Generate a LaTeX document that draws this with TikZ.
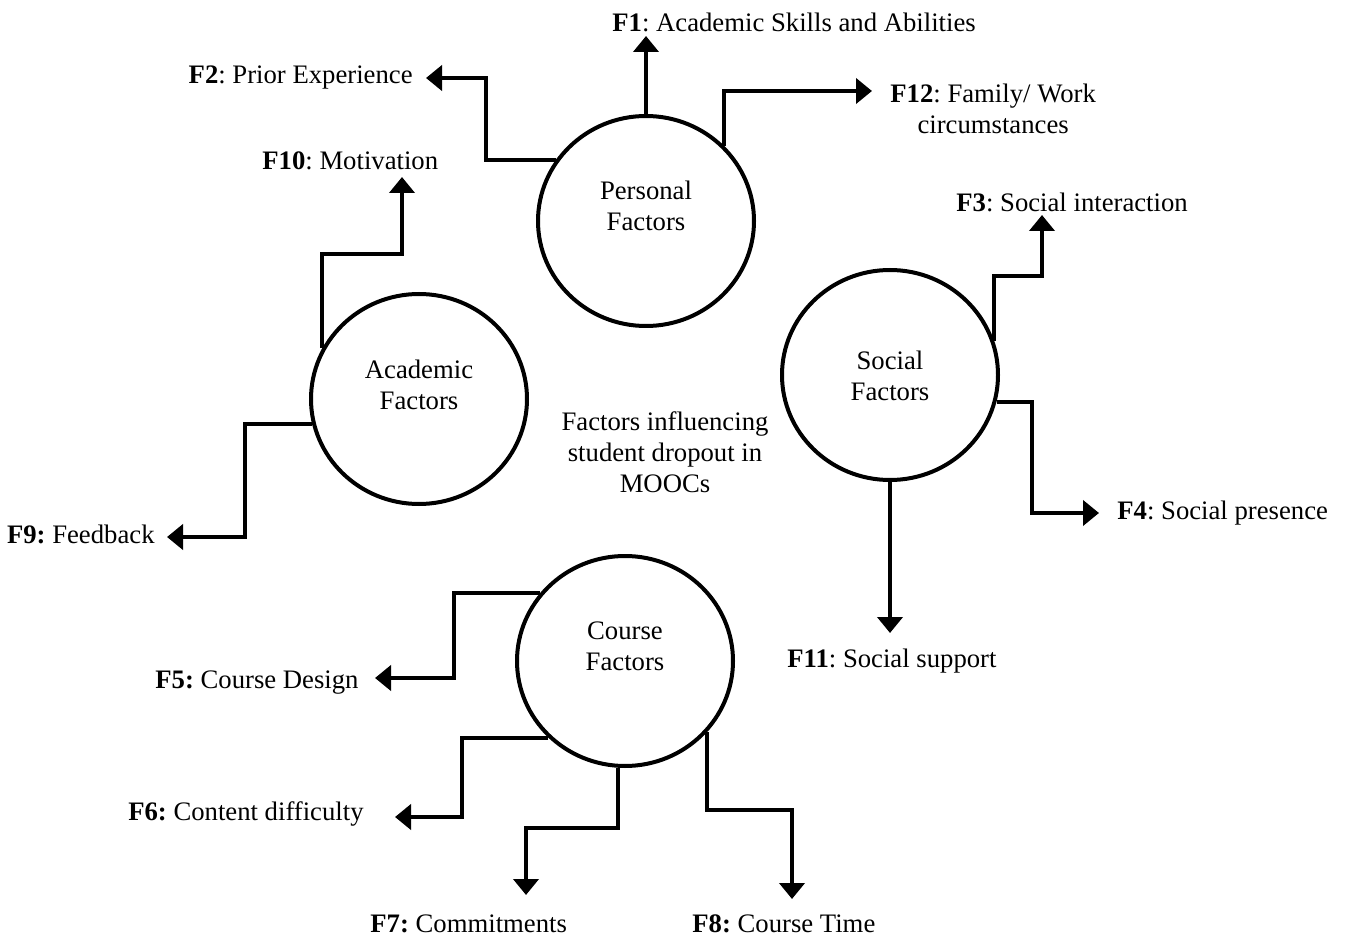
\documentclass[tikz,border=0pt]{standalone}
\usepackage{fontspec}
\setmainfont{Liberation Serif}
\usetikzlibrary{shapes.geometric,arrows.meta}
\frenchspacing
\newcommand{\twolines}[3]{\raisebox{#1}[\height][\depth]{\begin{tabular}{@{}c@{}}#2\\#3\end{tabular}}}

\begin{document}
\begin{tikzpicture}[x=0.5pt,y=-0.5pt,
    font=\fontsize{13.35}{15.5}\selectfont,
    factor/.style={ellipse, draw, line width=2pt, minimum width=108pt, minimum height=105pt, inner sep=0pt},
    link/.style={line width=2pt, -{Triangle[length=8pt,width=12.5pt]}},
    lbl/.style={inner sep=0pt}]
  \useasboundingbox (0,0) rectangle (1345,936);
  \node[factor] (pers) at (646,221) {\twolines{6pt}{Personal}{Factors}};
  \node[factor] (acad) at (419,399) {\twolines{5.5pt}{Academic}{Factors}};
  \node[factor] (soc) at (890,375) {\twolines{-2pt}{Social}{Factors}};
  \node[factor] (cour) at (625,661) {\twolines{6pt}{Course}{Factors}};
  \node[lbl, align=center] (title) at (665,452) {Factors influencing\\student dropout in\\MOOCs};

  \node[lbl, anchor=base west] (f1) at (612,32) {\textbf{F1}: Academic Skills and Abilities};
  \node[lbl, anchor=base east] (f2) at (413,84) {\textbf{F2}: Prior Experience};
  \node[lbl, anchor=north west, align=center] (f12) at (890,84) {\textbf{F12}: Family/ Work\\circumstances};
  \node[lbl, anchor=base west] (f10) at (262,170) {\textbf{F10}: Motivation};
  \node[lbl, anchor=base east] (f9) at (155,543) {\textbf{F9:} Feedback};
  \node[lbl, anchor=base west] (f3) at (956,212) {\textbf{F3}: Social interaction};
  \node[lbl, anchor=base west] (f4) at (1117,519) {\textbf{F4}: Social presence};
  \node[lbl, anchor=base west] (f11) at (787,667) {\textbf{F11}: Social support};
  \node[lbl, anchor=base east] (f5) at (359,688) {\textbf{F5:} Course Design};
  \node[lbl, anchor=base east] (f6) at (364,820) {\textbf{F6:} Content difficulty};
  \node[lbl, anchor=base west] (f7) at (370,932) {\textbf{F7:} Commitments};
  \node[lbl, anchor=base west] (f8) at (692,932) {\textbf{F8:} Course Time};

  \coordinate (t1) at (646,36);
  \coordinate (t2) at (426,78);
  \coordinate (t12) at (872,91);
  \coordinate (t10) at (402,177);
  \coordinate (t9) at (167,537);
  \coordinate (t3) at (1042,215);
  \coordinate (t4) at (1099,513);
  \coordinate (t11) at (890,633);
  \coordinate (t5) at (375,678);
  \coordinate (t6) at (395,817);
  \coordinate (t7) at (526,895);
  \coordinate (t8) at (792,899);

  \draw[link] (pers.north) -- (t1);
  \draw[link] (pers.146) -- ++(-70,0) |- (t2);
  \draw[link] (pers.44) |- (t12);
  \draw[link] (acad.152) -- ++(0,-94) -| (t10);
  \draw[link] (acad.193) -- ++(-67,0) |- (t9);
  \draw[link] (soc.18) -- ++(0,-65) -| (t3);
  \draw[link] (soc.346) -- ++(35,0) |- (t4);
  \draw[link] (soc.south) -- (t11);
  \draw[link] (cour.141) -- ++(-86,0) |- (t5);
  \draw[link] (cour.225) -- ++(-86,0) |- (t6);
  \draw[link] (cour.266) -- ++(0,60) -| (t7);
  \draw[link] (cour.319) -- ++(0,78) -| (t8);
\end{tikzpicture}
\end{document}
